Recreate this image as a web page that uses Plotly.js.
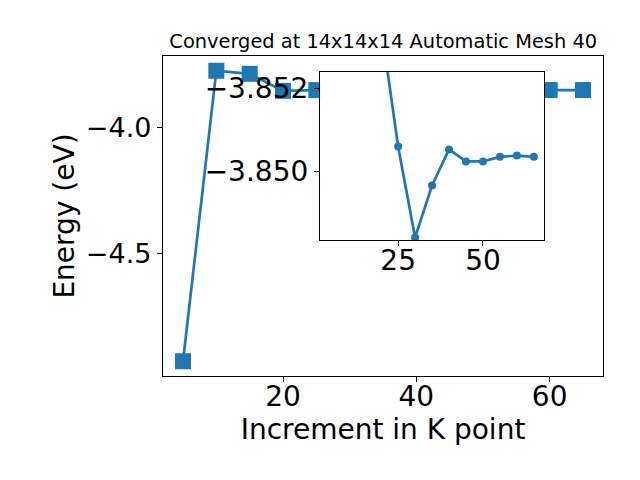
<!DOCTYPE html>
<html>
<head>
<meta charset="utf-8">
<script src="https://cdn.plot.ly/plotly-3.0.1.min.js"></script>
<style>body{margin:0;padding:0;}#chart{width:640px;height:480px;}</style>
</head>
<body>
<div id="chart"></div>
<script>
// K-point increments and total energies (eV)
const kpoints = [5, 10, 15, 20, 25, 30, 35, 40, 45, 50, 55, 60, 65];
const energy = [-4.925, -3.774, -3.786, -3.8535, -3.8506, -3.8484, -3.84966, -3.85053, -3.85024, -3.85024, -3.85035, -3.85038, -3.85035];
const xTicks = [20, 40, 60];
const yTicks = [-4.0, -4.5];
const yTickText = ['\u22124.0', '\u22124.5'];
const insetXTicks = [25, 50];
const insetYTicks = [-3.852, -3.850];
const insetYTickText = ['\u22123.852', '\u22123.850'];
// inset starts at the first point near convergence (20)
const insetStart = kpoints.indexOf(20);

const blue = '#1f77b4';
const font = 'DejaVu Sans, sans-serif';

const traces = [
  {
    x: kpoints, y: energy, type: 'scatter', mode: 'lines+markers',
    line: {color: blue, width: 2.7},
    marker: {symbol: 'square', size: 16, color: blue},
    xaxis: 'x', yaxis: 'y', showlegend: false, cliponaxis: false
  },
  {
    x: kpoints.slice(insetStart), y: energy.slice(insetStart), type: 'scatter', mode: 'lines+markers',
    line: {color: blue, width: 2.7},
    marker: {symbol: 'circle', size: 8, color: blue},
    xaxis: 'x2', yaxis: 'y2', showlegend: false, cliponaxis: true
  }
];

const axBase = {
  showline: true, mirror: true, linecolor: 'black', linewidth: 1.2,
  ticks: 'outside', ticklen: 5, tickwidth: 1, tickcolor: 'black',
  showgrid: false, zeroline: false
};

const layout = {
  width: 640, height: 480,
  paper_bgcolor: 'white', plot_bgcolor: 'white',
  margin: {l: 163, r: 37, t: 56, b: 104},
  font: {family: font, color: 'black'},
  title: {text: 'Converged at 14x14x14 Automatic Mesh 40', font: {size: 19.4, family: font, color: 'black'},
          x: 0.5988, xanchor: 'center', y: 0.914, yanchor: 'middle'},
  xaxis: Object.assign({}, axBase, {
    domain: [0, 1], range: [2, 68], tickvals: xTicks,
    tickfont: {size: 28, family: font}, ticklabelstandoff: -10,
    title: {text: 'Increment in K point', font: {size: 28, family: font}, standoff: 0}
  }),
  yaxis: Object.assign({}, axBase, {
    domain: [0, 1], range: [-4.9835, -3.7155], tickvals: yTicks, ticktext: yTickText,
    tickfont: {size: 27, family: font},
    title: {text: 'Energy (eV)', font: {size: 28, family: font}, standoff: 3}
  }),
  xaxis2: Object.assign({}, axBase, {
    domain: [0.357, 0.866], range: [2, 68], anchor: 'y2', tickvals: insetXTicks,
    tickfont: {size: 28, family: font}, ticklabelstandoff: -10
  }),
  yaxis2: Object.assign({}, axBase, {
    domain: [0.425, 0.95], range: [-3.84834, -3.8524], anchor: 'x2',
    tickvals: insetYTicks, ticktext: insetYTickText,
    tickfont: {size: 28, family: font}
  })
};

Plotly.newPlot('chart', traces, layout, {displayModeBar: false, staticPlot: true});
</script>
</body>
</html>
